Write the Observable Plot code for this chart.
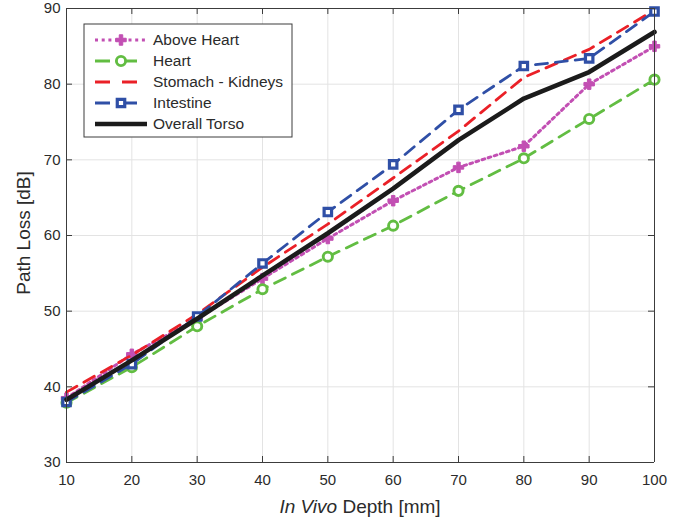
<!DOCTYPE html>
<html>
<head>
<meta charset="utf-8">
<script src="https://cdn.jsdelivr.net/npm/d3@7"></script>
<script src="https://cdn.jsdelivr.net/npm/@observablehq/plot@0.6"></script>
<style>
  html, body { margin: 0; padding: 0; background: #fff; }
  #chart { width: 680px; height: 522px; }
</style>
</head>
<body>
<div id="chart"></div>
<script>
const depth = [10, 20, 30, 40, 50, 60, 70, 80, 90, 100];
const aboveHeart = [38.5, 44.3, 49.0, 54.3, 59.6, 64.6, 69.0, 71.8, 80.0, 85.0];
const heart = [37.9, 42.6, 48.0, 52.9, 57.2, 61.3, 65.9, 70.2, 75.4, 80.6];
const stomachKidneys = [39.3, 44.2, 49.6, 55.8, 61.5, 67.6, 73.8, 80.9, 84.6, 89.8];
const intestine = [38.0, 43.0, 49.3, 56.3, 63.1, 69.4, 76.6, 82.4, 83.4, 89.6];
const overallTorso = [38.3, 43.5, 49.0, 54.7, 60.3, 66.2, 72.6, 78.1, 81.6, 86.9];
const seriesNames = ["Above Heart", "Heart", "Stomach - Kidneys", "Intestine", "Overall Torso"];
const xTicks = [10, 20, 30, 40, 50, 60, 70, 80, 90, 100];
const yTicks = [30, 40, 50, 60, 70, 80, 90];

const styles = [
  {color: "#c24fb3", width: 3, dash: "2.8,3.6", legendDash: "3,3.7", symbol: "cross", r: 4.4, sw: 1},
  {color: "#62bd42", width: 2.8, dash: "12,8", legendDash: "15,12", symbol: "circle", r: 4.6, sw: 2.9},
  {color: "#ea2027", width: 2.8, dash: "12,8", legendDash: "15,12", symbol: null},
  {color: "#2f4fa6", width: 2.8, dash: "12,8", legendDash: "15,12", symbol: "square", r: 4.2, sw: 3.2},
  {color: "#1b1b1b", width: 4.6, dash: null, legendDash: null, symbol: null}
];
const values = [aboveHeart, heart, stomachKidneys, intestine, overallTorso];
const series = seriesNames.map((name, i) => ({name, ...styles[i], data: depth.map((d, j) => ({x: d, y: values[i][j], s: name}))}));

const W = 680, H = 522;
const mL = 66, mR = 26, mT = 8, mB = 60;
const tickLen = 6;
const yPerPx = (90 - 30) / (H - mT - mB);
const xPerPx = (100 - 10) / (W - mL - mR);
const axisColor = "#3c3c3c";
const textColor = "#2b2b2b";
const font = "'Liberation Sans', Arial, Helvetica, sans-serif";

const marks = [
  Plot.ruleX(xTicks, {x: d => d, y1: 30, y2: 90, stroke: "#e3e3e3", strokeWidth: 1}),
  Plot.ruleY(yTicks, {y: d => d, x1: 10, x2: 100, stroke: "#e3e3e3", strokeWidth: 1}),
  // inward ticks
  Plot.ruleX(xTicks, {x: d => d, y1: 30, y2: 30 + tickLen * yPerPx, stroke: axisColor, strokeWidth: 1}),
  Plot.ruleX(xTicks, {x: d => d, y1: 90, y2: 90 - tickLen * yPerPx, stroke: axisColor, strokeWidth: 1}),
  Plot.ruleY(yTicks, {y: d => d, x1: 10, x2: 10 + tickLen * xPerPx, stroke: axisColor, strokeWidth: 1}),
  Plot.ruleY(yTicks, {y: d => d, x1: 100, x2: 100 - tickLen * xPerPx, stroke: axisColor, strokeWidth: 1}),
];
for (const s of series) {
  marks.push(Plot.line(s.data, {x: "x", y: "y", stroke: s.color, strokeWidth: s.width, strokeDasharray: s.dash || undefined, strokeLinejoin: "round"}));
  if (s.symbol) {
    marks.push(Plot.dot(s.data, {x: "x", y: "y", symbol: s.symbol, r: s.r, stroke: s.color, strokeWidth: s.sw, fill: s.symbol === "cross" ? s.color : "white"}));
  }
}
marks.push(
  Plot.ruleY([30, 90], {x1: 10, x2: 100, stroke: axisColor, strokeWidth: 1}),
  Plot.ruleX([10, 100], {y1: 30, y2: 90, stroke: axisColor, strokeWidth: 1}),
  Plot.axisX(xTicks, {tickSize: 0, tickPadding: 12, fontSize: 15, fill: textColor, label: null}),
  Plot.axisY(yTicks, {tickSize: 0, tickPadding: 6, fontSize: 15, fill: textColor, label: null})
);

const plot = Plot.plot({
  width: W, height: H,
  marginLeft: mL, marginRight: mR, marginTop: mT, marginBottom: mB,
  x: {domain: [10, 100], type: "linear"},
  y: {domain: [30, 90], type: "linear"},
  style: {fontFamily: font, background: "white", overflow: "visible"},
  marks
});

const svg = d3.select(plot);
// axis titles
const xl = svg.append("text")
  .attr("x", mL + (W - mL - mR) / 2).attr("y", H - 9)
  .attr("text-anchor", "middle").attr("font-size", 19).attr("fill", textColor)
  .attr("font-family", font);
xl.append("tspan").attr("font-style", "italic").text("In Vivo");
xl.append("tspan").text(" Depth [mm]");
svg.append("text")
  .attr("transform", `translate(30,${mT + (H - mT - mB) / 2 - 2}) rotate(-90)`)
  .attr("text-anchor", "middle").attr("font-size", 19).attr("fill", textColor)
  .attr("font-family", font).text("Path Loss [dB]");

// legend
const lg = svg.append("g").attr("transform", "translate(84,24)");
lg.append("rect").attr("width", 208).attr("height", 113).attr("fill", "white").attr("stroke", "#3c3c3c").attr("stroke-width", 1);
series.forEach((s, i) => {
  const y = 16 + i * 21;
  const g = lg.append("g").attr("transform", `translate(0,${y})`);
  g.append("line").attr("x1", 11).attr("x2", 63).attr("y1", 0).attr("y2", 0)
    .attr("stroke", s.color).attr("stroke-width", s.width)
    .attr("stroke-dasharray", s.legendDash);
  if (s.symbol) {
    const sym = {cross: d3.symbolCross, circle: d3.symbolCircle, square: d3.symbolSquare}[s.symbol];
    const area = Math.PI * s.r * s.r;
    g.append("path").attr("transform", "translate(37,0)")
      .attr("d", d3.symbol(sym, area)())
      .attr("stroke", s.color).attr("stroke-width", s.sw)
      .attr("fill", s.symbol === "cross" ? s.color : "white");
  }
  g.append("text").attr("x", 69).attr("y", 0).attr("dy", "0.35em")
    .attr("text-anchor", "start")
    .attr("font-size", 15.5).attr("fill", textColor).attr("font-family", font).text(s.name);
});

document.getElementById("chart").appendChild(plot);
</script>
</body>
</html>
